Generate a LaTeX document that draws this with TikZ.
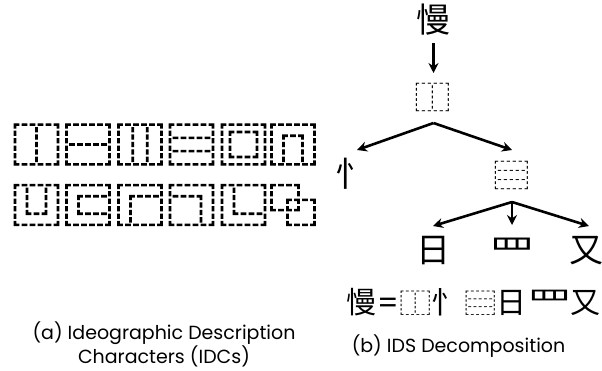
\documentclass[tikz,border=0pt]{standalone}
\usepackage{fontspec}
\setmainfont{Poppins}
\newfontfamily\cjk{Noto Sans CJK SC}
\newfontfamily\cjkbold[FakeBold=2.5]{Noto Sans CJK SC}
\usetikzlibrary{arrows.meta}
\newcommand{\idcglyph}[1]{\scalebox{1.03}[0.955]{#1}}
\newcommand{\treeglyph}[1]{\scalebox{1.08}[0.93]{#1}}
\begin{document}
\begin{tikzpicture}[x=1pt,y=-1pt,
  idc/.style={inner sep=0pt,font=\cjkbold\fontsize{48}{48}\selectfont},
  tchar/.style={inner sep=0pt,font=\cjk\fontsize{34}{34}\selectfont},
  captxt/.style={inner sep=0pt,font=\fontsize{19}{22}\selectfont,align=center},
  arr/.style={line width=2.6pt,-{Stealth[length=10pt,width=10pt]}}]
\useasboundingbox (0,0) rectangle (602,370);
% left panel
\node[idc] (i1) at (36.5,144.5) {\idcglyph{⿰}};
\node[idc] (i2) at (88,144.5) {\idcglyph{⿱}};
\node[idc] (i3) at (140,144.5) {\idcglyph{⿲}};
\node[idc] (i4) at (191.5,144.5) {\idcglyph{⿳}};
\node[idc] (i5) at (243.5,144.5) {\idcglyph{⿴}};
\node[idc] (i6) at (293,144.5) {\idcglyph{⿵}};
\node[idc] (j1) at (36.5,205) {\idcglyph{⿶}};
\node[idc] (j2) at (88,205) {\idcglyph{⿷}};
\node[idc] (j3) at (140,205) {\idcglyph{⿸}};
\node[idc] (j4) at (191.5,205) {\idcglyph{⿹}};
\node[idc] (j5) at (243.5,205) {\idcglyph{⿺}};
\node[idc] (j6) at (293,205) {\idcglyph{⿻}};
\node[captxt] (capa) at (164,344) {(a) Ideographic Description\\Characters (IDCs)};
% right panel
\node[tchar] (man) at (433,20) {慢};
\node[tchar] (lr) at (433,97.5) {\treeglyph{⿰}};
\node[tchar] (xin) at (352,174) {忄};
\node[tchar] (tb) at (511.5,175.5) {\treeglyph{⿳}};
\node[tchar] (ri) at (433.5,251) {日};
\node[tchar] (wang) at (512,251) {\scalebox{1.35}[1]{罒}};
\node[tchar] (you) at (586,251) {又};
\coordinate (s1) at (433.5,123);
\coordinate (s2) at (512,202);
\draw[arr] (433.5,43) -- (433.5,73);
\draw[arr] (s1) -- (357,150);
\draw[arr] (s1) -- (512,150);
\draw[arr] (s2) -- (433,226);
\draw[arr] (s2) -- (512,225);
\draw[arr] (s2) -- (589,226);
\node[inner sep=0pt,anchor=west,font=\cjk\fontsize{30}{30}\selectfont] (formula) at (346,302) {慢\hspace{1pt}{\fontspec{Poppins}=}\hspace{1pt}\scalebox{1.08}[0.9]{⿰}\hspace{-1pt}忄\hspace{3pt}\scalebox{1.08}[0.9]{⿳}日\hspace{1pt}\scalebox{1.5}[1]{罒}\hspace{-2pt}又};
\node[captxt] (capb) at (458.5,346) {(b) IDS Decomposition};
\end{tikzpicture}
\end{document}
